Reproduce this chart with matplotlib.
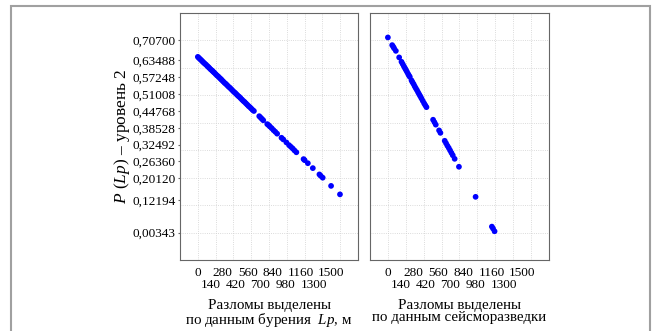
import matplotlib.pyplot as plt
from matplotlib.patches import Rectangle

plt.rcParams["font.family"] = ["Liberation Serif", "DejaVu Serif"]
plt.rcParams["mathtext.fontset"] = "custom"
plt.rcParams["mathtext.rm"] = "Liberation Serif"
plt.rcParams["mathtext.it"] = "Liberation Serif:italic"

# Разломы по данным бурения: Lp, м и P(Lp)
lp_drill = [0, 12, 25, 38, 50, 62, 75, 90, 105, 118, 130, 145, 160, 172, 185,
            200, 215, 230, 245, 258, 270, 285, 300, 315, 330, 345, 360, 375,
            390, 405, 420, 435, 450, 465, 480, 495, 510, 525, 540, 555, 570,
            585, 600, 615, 630, 690, 705, 720, 735, 780, 795, 810, 830, 850,
            870, 891, 940, 960, 995, 1025, 1045, 1065, 1085, 1107, 1188, 1200,
            1236, 1292, 1366, 1380, 1403, 1497, 1597]
p_drill = [0.646, 0.642, 0.638, 0.634, 0.630, 0.626, 0.622, 0.618, 0.613,
           0.609, 0.605, 0.600, 0.596, 0.592, 0.588, 0.583, 0.578, 0.574,
           0.569, 0.565, 0.561, 0.556, 0.551, 0.547, 0.542, 0.537, 0.533,
           0.528, 0.523, 0.518, 0.514, 0.509, 0.504, 0.500, 0.495, 0.490,
           0.485, 0.481, 0.476, 0.471, 0.466, 0.462, 0.457, 0.452, 0.448,
           0.429, 0.424, 0.419, 0.414, 0.400, 0.396, 0.391, 0.385, 0.378,
           0.372, 0.365, 0.350, 0.344, 0.333, 0.323, 0.317, 0.311, 0.304,
           0.297, 0.272, 0.268, 0.257, 0.239, 0.216, 0.211, 0.204, 0.174,
           0.143]

# Разломы по данным сейсморазведки
lp_seis = [0, 48, 60, 70, 89, 126, 152, 165, 178, 190, 200, 212, 225, 235,
           245, 264, 275, 288, 300, 312, 325, 338, 350, 362, 375, 390, 405,
           418, 431, 505, 520, 535, 572, 587, 635, 650, 665, 680, 695, 710,
           725, 746, 794, 980, 1162, 1175, 1192]
p_seis = [0.717, 0.689, 0.683, 0.677, 0.668, 0.644, 0.628, 0.620, 0.612,
          0.605, 0.599, 0.592, 0.584, 0.578, 0.573, 0.560, 0.553, 0.546,
          0.538, 0.531, 0.524, 0.516, 0.509, 0.502, 0.494, 0.485, 0.476,
          0.469, 0.462, 0.416, 0.407, 0.398, 0.377, 0.368, 0.339, 0.330,
          0.321, 0.313, 0.304, 0.295, 0.286, 0.273, 0.244, 0.134, 0.025,
          0.018, 0.008]

y_ticks = [0.70700, 0.63488, 0.57248, 0.51008, 0.44768, 0.38528, 0.32492,
           0.26360, 0.20120, 0.12194, 0.00343]
x_row1 = [0, 280, 560, 840, 1160, 1500]
x_row2 = [140, 420, 700, 980, 1300]

step_y = (0.70700 - 0.00343) / 7
y_grid = [0.00343 + k * step_y for k in range(-1, 9)]
x_grid = list(range(-200, 1801, 200))

fig = plt.figure(figsize=(6.53, 3.31), dpi=100)
ax1 = fig.add_axes([0.2757, 0.2145, 0.2726, 0.7471])
ax2 = fig.add_axes([0.5666, 0.2145, 0.2741, 0.7471])

for ax, xs, ys in [(ax1, lp_drill, p_drill), (ax2, lp_seis, p_seis)]:
    for gx in x_grid:
        ax.axvline(gx, color="#cfcfcf", lw=0.6, ls=":", zorder=0)
    for gy in y_grid:
        ax.axhline(gy, color="#cfcfcf", lw=0.6, ls=":", zorder=0)
    ax.scatter(xs, ys, s=17, color="#0000ff", edgecolors="none", zorder=3)
    ax.set_xlim(-200, 1800)
    ax.set_ylim(y_grid[0], y_grid[-1])
    ax.set_xticks(x_row1)
    ax.set_xticklabels([str(v) for v in x_row1])
    ax.set_xticks(x_row2, minor=True)
    ax.set_xticklabels([str(v) for v in x_row2], minor=True)
    ax.tick_params(axis="x", which="major", length=0, pad=5, labelsize=9.5)
    ax.tick_params(axis="x", which="minor", length=0, pad=13.5, labelsize=9.5)
    ax.set_yticks(y_ticks)
    ax.tick_params(axis="y", length=1.5, pad=1.5, labelsize=9.5, color="#666666")
    for sp in ax.spines.values():
        sp.set_color("#666666")
        sp.set_linewidth(0.8)

ax1.set_yticklabels([f"{v:.5f}".replace(".", ",") for v in y_ticks])
ax2.set_yticklabels([])
ax2.tick_params(axis="y", length=0)

ax1.set_xlabel("Разломы выделены\nпо данным бурения  $\\it{Lp}$, м",
               fontsize=10.8, labelpad=6, linespacing=0.9)
ax2.set_xlabel("Разломы выделены\nпо данным сейсморазведки",
               fontsize=10.8, labelpad=6, linespacing=0.9)

fig.text(122 / 653, 1 - 136 / 331, "$\\it{P}$ ($\\it{Lp}$) – уровень 2",
         rotation=90, ha="center", va="center", fontsize=12.5)

fig.patches.append(Rectangle((11 / 653, -0.1), 639 / 653, 1.1 - 6 / 331,
                             transform=fig.transFigure, fill=False,
                             edgecolor="#a0a0a0", lw=1.5))

fig.savefig("out.png", dpi=100)
